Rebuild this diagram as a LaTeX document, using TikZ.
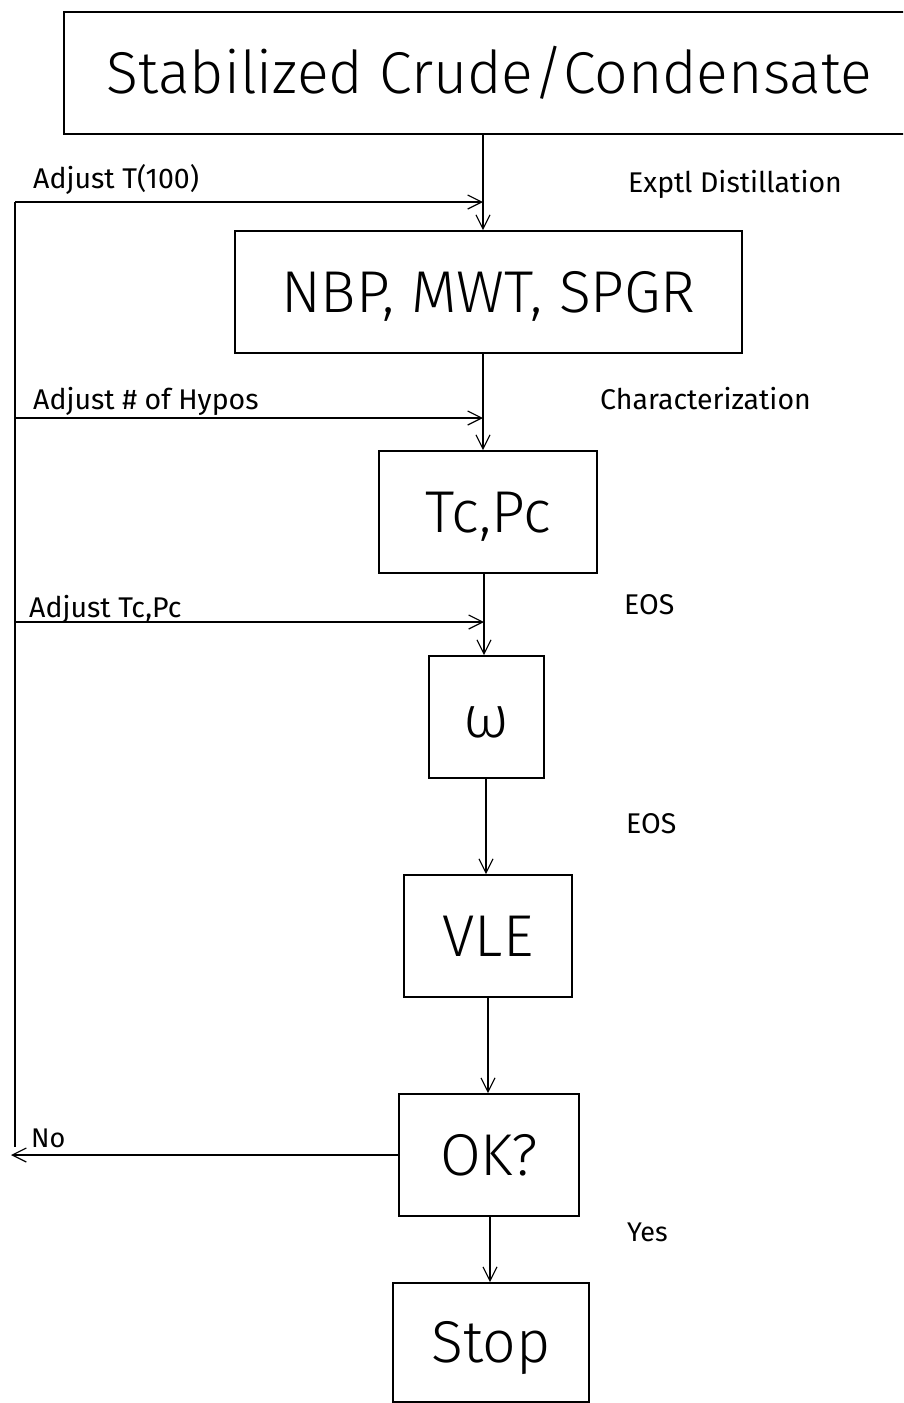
\documentclass[tikz,border=0pt]{standalone}
\usepackage{fontspec}
\setmainfont{Fira Sans}
\newfontfamily\lightfont{Fira Sans Light}
\usetikzlibrary{arrows.meta}
\tikzset{
  box/.style={draw, line width=1.6pt, inner sep=0pt, font=\lightfont\fontsize{59}{66}\selectfont, text height=40pt, text depth=0pt},
  conn/.style={line width=1.2pt},
  arr/.style={conn, -{Straight Barb[length=14pt,width=14pt]}},
  lbl/.style={anchor=base west, inner sep=0pt, font=\fontsize{28.5}{34}\selectfont},
}
\begin{document}
\begin{tikzpicture}[x=1pt,y=-1pt]
\useasboundingbox (0,0) rectangle (903,1403);
\clip (0,0) rectangle (903,1403);
% boxes
\node[box, minimum width=851pt, minimum height=122pt] (b1) at (489.5,73) {Stabilized Crude/Condensate};
\node[box, minimum width=507pt, minimum height=122pt] (b2) at (488.5,292) {NBP, MWT, SPGR};
\node[box, minimum width=218pt, minimum height=122pt] (b3) at (488,512) {Tc,Pc};
\node[box, minimum width=115pt, minimum height=122pt] (b4) at (486.5,717) {ω};
\node[box, minimum width=168pt, minimum height=122pt] (b5) at (488,936) {VLE};
\node[box, minimum width=180pt, minimum height=122pt] (b6) at (489,1155) {OK?};
\node[box, minimum width=196pt, minimum height=119pt] (b7) at (491,1342.5) {Stop};
% junction coordinates
\coordinate (j1) at (483,202);
\coordinate (j2) at (483,418);
\coordinate (j3) at (484,622);
\coordinate (j4) at (486,0);
\coordinate (j5) at (488,0);
\coordinate (j6) at (490,0);
\coordinate (f1) at (15,202);
\coordinate (f2) at (15,418);
\coordinate (f3) at (15,622);
\coordinate (f4) at (15,1147);
\coordinate (no) at (11,1155);
% main flow
\draw[arr] (b1.south -| j1) -- (b2.north -| j1);
\draw[arr] (b2.south -| j2) -- (b3.north -| j2);
\draw[arr] (b3.south -| j3) -- (b4.north -| j3);
\draw[arr] (b4.south -| j4) -- (b5.north -| j4);
\draw[arr] (b5.south -| j5) -- (b6.north -| j5);
\draw[arr] (b6.south -| j6) -- (b7.north -| j6);
% feedback
\draw[conn] (f1) -- (f4);
\draw[arr] (f1) -- (j1);
\draw[arr] (f2) -- (j2);
\draw[arr] (f3) -- (j3);
\draw[arr] (b6.west) -- (no);
% labels
\node[lbl] (l1) at (33,188) {Adjust T(100)};
\node[lbl] (l2) at (628,192) {Exptl Distillation};
\node[lbl] (l3) at (33,409) {Adjust \# of Hypos};
\node[lbl] (l4) at (600,409) {Characterization};
\node[lbl] (l5) at (29,617) {Adjust Tc,Pc};
\node[lbl] (l6) at (624,614) {EOS};
\node[lbl] (l7) at (626,833) {EOS};
\node[lbl, font=\fontsize{27}{32}\selectfont] (l8) at (31,1147) {No};
\node[lbl, font=\fontsize{27}{32}\selectfont] (l9) at (627,1241) {Yes};
\end{tikzpicture}
\end{document}
